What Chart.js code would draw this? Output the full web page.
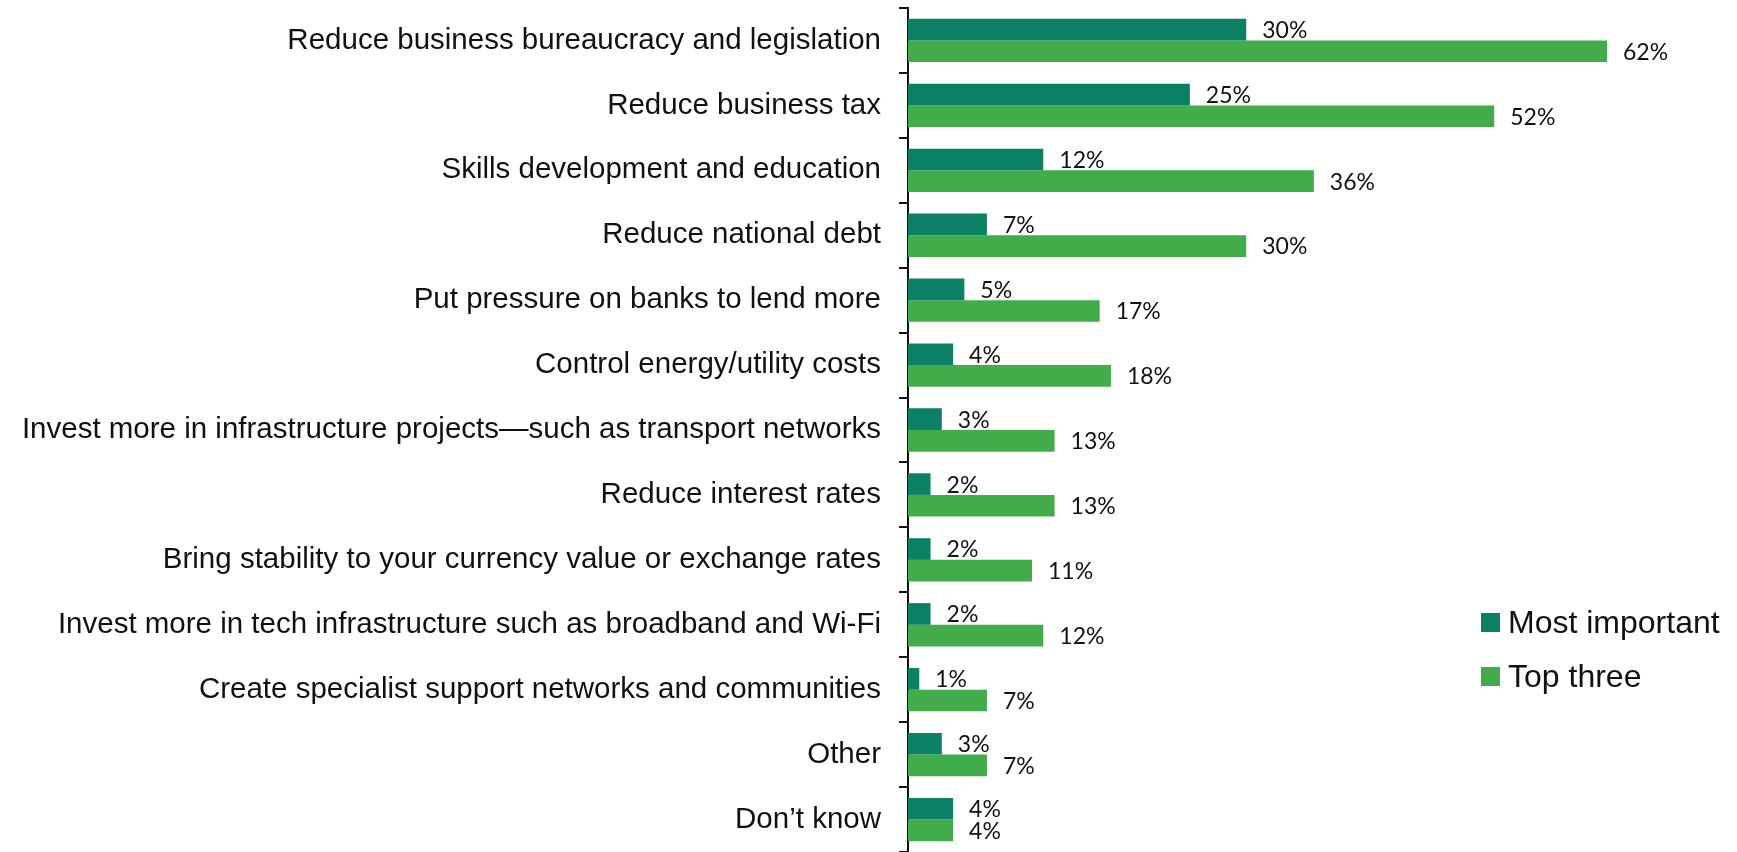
<!DOCTYPE html>
<html>
<head>
<meta charset="utf-8">
<script src="https://cdn.jsdelivr.net/npm/chart.js@4"></script>
<style>
    body { margin: 0; background: #fff; }
    #wrap { position: relative; width: 1737px; height: 852px; }
    #legend { position: absolute; left: 1481px; top: 595px; font-family: "Liberation Sans", Arial, sans-serif; font-size: 32px; color: #111; }
    #legend div { display: flex; align-items: center; height: 54px; white-space: nowrap; }
    #legend span.box { display: inline-block; width: 19px; height: 19px; margin-right: 8px; }
</style>
</head>
<body>
<div id="wrap">
    <canvas id="priorities-chart" width="1737" height="852"></canvas>
    <div id="legend"></div>
</div>
<script>
const categories = [
    "Reduce business bureaucracy and legislation",
    "Reduce business tax",
    "Skills development and education",
    "Reduce national debt",
    "Put pressure on banks to lend more",
    "Control energy/utility costs",
    "Invest more in infrastructure projects\u2014such as transport networks",
    "Reduce interest rates",
    "Bring stability to your currency value or exchange rates",
    "Invest more in tech infrastructure such as broadband and Wi-Fi",
    "Create specialist support networks and communities",
    "Other",
    "Don\u2019t know"
];
const mostImportant = [30, 25, 12, 7, 5, 4, 3, 2, 2, 2, 1, 3, 4];
const topThree = [62, 52, 36, 30, 17, 18, 13, 13, 11, 12, 7, 7, 4];

const darkGreen = "#0b8064";
const lightGreen = "#42ab4a";

// Value labels just past the end of each bar
const valueLabels = {
    id: "valueLabels",
    afterDatasetsDraw(chart) {
        const ctx = chart.ctx;
        ctx.save();
        ctx.font = "23px Lato, sans-serif";
        ctx.fillStyle = "#111";
        ctx.textAlign = "left";
        ctx.textBaseline = "middle";
        chart.data.datasets.forEach((ds, di) => {
            chart.getDatasetMeta(di).data.forEach((bar, i) => {
                ctx.fillText(ds.data[i] + "%", bar.x + 16, bar.y + 1);
            });
        });
        ctx.restore();
    }
};

document.addEventListener("DOMContentLoaded", () => {
    const ctx = document.getElementById("priorities-chart").getContext("2d");

    const chart = new Chart(ctx, {
        type: "bar",
        data: {
            labels: categories,
            datasets: [
                { label: "Most important", data: mostImportant, backgroundColor: darkGreen },
                { label: "Top three", data: topThree, backgroundColor: lightGreen }
            ]
        },
        options: {
            indexAxis: "y",
            responsive: false,
            animation: false,
            devicePixelRatio: 1,
            layout: { padding: { top: 8, right: 6, bottom: 0, left: 0 } },
            datasets: {
                bar: { categoryPercentage: 0.667, barPercentage: 1 }
            },
            scales: {
                x: {
                    display: false,
                    min: 0,
                    max: 73
                },
                y: {
                    // fixed axis width, and no extra room for half-labels at the ends
                    afterFit(scale) {
                        scale.width = 908;
                        scale.paddingTop = 0;
                        scale.paddingBottom = 0;
                    },
                    border: { display: true, color: "#111", width: 2 },
                    grid: {
                        drawOnChartArea: false,
                        drawTicks: true,
                        tickLength: 9,
                        color: "#111",
                        lineWidth: 2
                    },
                    ticks: {
                        padding: 18,
                        color: "#111",
                        autoSkip: false,
                        font: { family: "'Liberation Sans', Arial, sans-serif", size: 29.5 }
                    }
                }
            },
            plugins: {
                legend: { display: false },
                tooltip: { enabled: false }
            }
        },
        plugins: [valueLabels]
    });

    // Legend built from the datasets
    const legend = document.getElementById("legend");
    chart.data.datasets.forEach(ds => {
        const row = document.createElement("div");
        row.innerHTML = `<span class="box" style="background:${ds.backgroundColor}"></span>${ds.label}`;
        legend.appendChild(row);
    });
});
</script>
</body>
</html>
